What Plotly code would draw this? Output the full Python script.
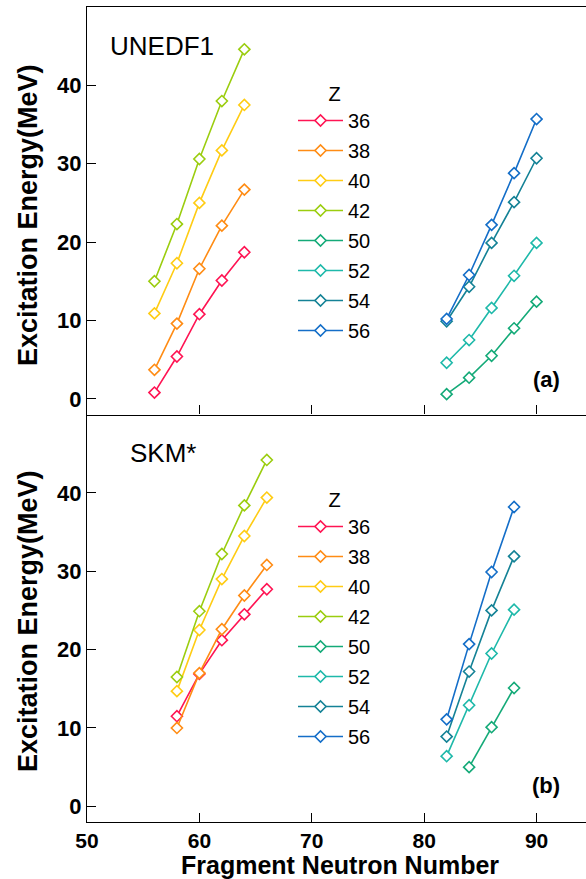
import plotly.graph_objects as go
from plotly.subplots import make_subplots

# ---------------- data ----------------
Z_LIST = ["36", "38", "40", "42", "50", "52", "54", "56"]
COLORS = ["#FF1453", "#FF8C14", "#FFCC14", "#9BCD0F", "#14AA78", "#1EB9AA", "#148296", "#146EC8"]

# UNEDF1 (panel a)
N_UNEDF1_LIGHT = [56, 58, 60, 62, 64]
N_UNEDF1_HEAVY = [82, 84, 86, 88, 90]
U_36 = [0.8, 5.4, 10.8, 15.1, 18.7]
U_38 = [3.7, 9.6, 16.6, 22.1, 26.7]
U_40 = [10.9, 17.3, 25.0, 31.7, 37.5]
U_42 = [15.0, 22.3, 30.6, 38.0, 44.6]
U_50 = [0.6, 2.7, 5.5, 9.0, 12.4]
U_52 = [4.6, 7.5, 11.6, 15.7, 19.9]
U_54 = [9.9, 14.3, 19.9, 25.1, 30.7]
U_56 = [10.2, 15.8, 22.2, 28.8, 35.7]

# SKM* (panel b)
N_SKM_LIGHT = [58, 60, 62, 64, 66]
N_SKM_HEAVY = [82, 84, 86, 88]
N_SKM_Z50 = [84, 86, 88]
S_36 = [11.5, 16.9, 21.2, 24.5, 27.7]
S_38 = [10.0, 17.0, 22.6, 26.9, 30.8]
S_40 = [14.7, 22.5, 29.0, 34.5, 39.4]
S_42 = [16.5, 24.9, 32.2, 38.4, 44.2]
S_50 = [5.0, 10.1, 15.1]
S_52 = [6.4, 12.9, 19.5, 25.1]
S_54 = [8.9, 17.2, 25.0, 31.9]
S_56 = [11.1, 20.7, 29.9, 38.2]

X_TICKS = [50, 60, 70, 80, 90]
Y_TICKS = [0, 10, 20, 30, 40]

UNEDF1 = [(N_UNEDF1_LIGHT, U_36), (N_UNEDF1_LIGHT, U_38), (N_UNEDF1_LIGHT, U_40), (N_UNEDF1_LIGHT, U_42),
          (N_UNEDF1_HEAVY, U_50), (N_UNEDF1_HEAVY, U_52), (N_UNEDF1_HEAVY, U_54), (N_UNEDF1_HEAVY, U_56)]
SKM = [(N_SKM_LIGHT, S_36), (N_SKM_LIGHT, S_38), (N_SKM_LIGHT, S_40), (N_SKM_LIGHT, S_42),
       (N_SKM_Z50, S_50), (N_SKM_HEAVY, S_52), (N_SKM_HEAVY, S_54), (N_SKM_HEAVY, S_56)]

FONT = "Liberation Sans, Arial, sans-serif"

# figure geometry (px)
W, H = 586, 879
ML, MR, MT, MB = 87, 0, 7, 57
PW, PH = W - ML - MR, H - MT - MB


def px(x):
    return (x - ML) / PW


def py(y):
    return (H - MB - y) / PH


fig = make_subplots(rows=2, cols=1, shared_xaxes=True, vertical_spacing=0)

for row, data, leg in [(1, UNEDF1, "legend"), (2, SKM, "legend2")]:
    for i, (xs, ys) in enumerate(data):
        fig.add_trace(go.Scatter(
            x=xs, y=ys, mode="lines+markers", name=Z_LIST[i],
            line=dict(color=COLORS[i], width=1.6),
            marker=dict(symbol="diamond", size=8.5, color="white",
                        line=dict(color=COLORS[i], width=1.6)),
            legend=leg, legendgroup=f"{leg}{i}",
        ), row=row, col=1)

axis_common = dict(showline=True, linecolor="black", linewidth=1.3, ticks="inside",
                   ticklen=9, tickcolor="black", tickwidth=1.2, showgrid=False, zeroline=False,
                   automargin=False)

fig.update_xaxes(range=[50, 94.4], tickvals=X_TICKS, **axis_common)
fig.update_xaxes(showticklabels=False, mirror=True, row=1, col=1)
fig.update_xaxes(tickfont=dict(family=FONT, size=21, color="black", weight="bold"),
                 row=2, col=1)
fig.update_yaxes(range=[-2, 50], tickvals=Y_TICKS, **axis_common,
                 tickfont=dict(family=FONT, size=22, color="black", weight="bold"))

legend_common = dict(
    bgcolor="rgba(0,0,0,0)", borderwidth=0, tracegroupgap=1, itemwidth=45,
    font=dict(family=FONT, size=20, color="black"),
    title=dict(text="Z", side="top center", font=dict(family=FONT, size=20, color="black")),
    xanchor="left", yanchor="top",
)

title_font = dict(family=FONT, size=27, color="black", weight="bold")
xtitle_font = dict(family=FONT, size=25, color="black", weight="bold")


def ann(text, x, y, font, angle=0):
    return dict(text=text, x=px(x), y=py(y), xref="paper", yref="paper", showarrow=False,
                xanchor="center", yanchor="middle", textangle=angle, font=font)


fig.update_layout(
    width=W, height=H,
    margin=dict(l=ML, r=MR, t=MT, b=MB, autoexpand=False),
    plot_bgcolor="white", paper_bgcolor="white",
    showlegend=True,
    legend=dict(x=px(293), y=py(75), **legend_common),
    legend2=dict(x=px(293), y=py(481), **legend_common),
    annotations=[
        ann("UNEDF1", 162, 46, dict(family=FONT, size=26, color="black")),
        ann("SKM*", 163, 453, dict(family=FONT, size=26, color="black")),
        ann("(a)", 546, 379, dict(family=FONT, size=22, color="black", weight="bold")),
        ann("(b)", 546, 785, dict(family=FONT, size=22, color="black", weight="bold")),
        ann("Fragment Neutron Number", 340, 865, xtitle_font),
        ann("Excitation Energy(MeV)", 28, 215, title_font, -90),
        ann("Excitation Energy(MeV)", 28, 621, title_font, -90),
    ],
)

fig.write_html("out.html", config={"displayModeBar": False},
               post_script="document.body.style.margin='0';document.body.style.overflow='hidden';")
